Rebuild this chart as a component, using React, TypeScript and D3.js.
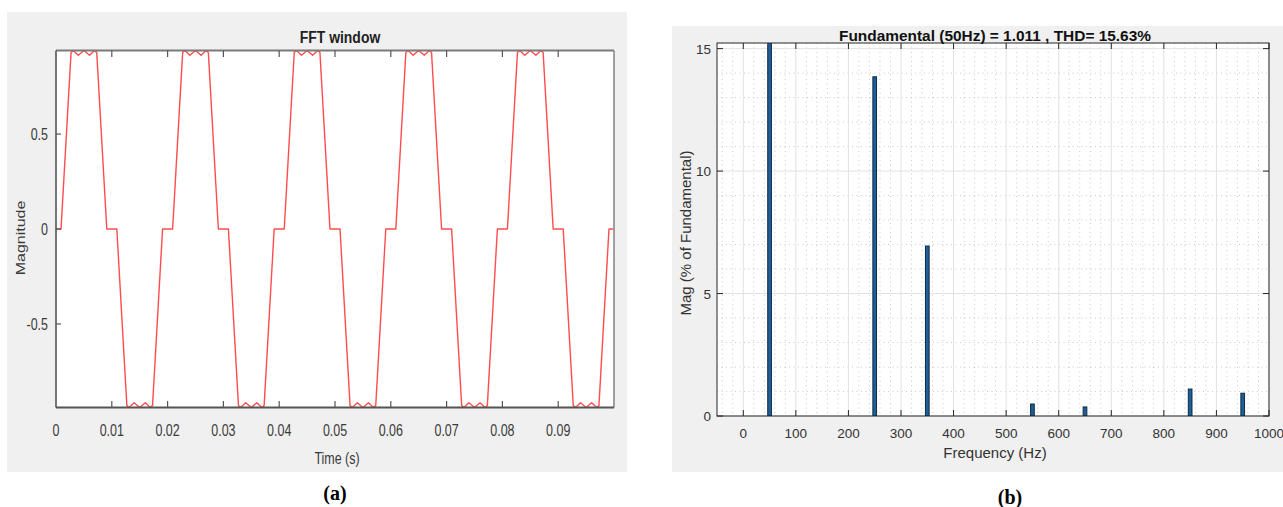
import React from "react";
import * as d3 from "d3";

// ---------- Panel (a): FFT window signal ----------
const timeS: number[] = [
  0.0, 0.0009, 0.0027, 0.0031, 0.004, 0.005, 0.006, 0.0069, 0.0073, 0.0091,
  0.0109, 0.0127, 0.0131, 0.014, 0.015, 0.016, 0.0169, 0.0173, 0.0191,
  0.0209, 0.0227, 0.0231, 0.024, 0.025, 0.026, 0.0269, 0.0273, 0.0291,
  0.0309, 0.0327, 0.0331, 0.034, 0.035, 0.036, 0.0369, 0.0373, 0.0391,
  0.0409, 0.0427, 0.0431, 0.044, 0.045, 0.046, 0.0469, 0.0473, 0.0491,
  0.0509, 0.0527, 0.0531, 0.054, 0.055, 0.056, 0.0569, 0.0573, 0.0591,
  0.0609, 0.0627, 0.0631, 0.064, 0.065, 0.066, 0.0669, 0.0673, 0.0691,
  0.0709, 0.0727, 0.0731, 0.074, 0.075, 0.076, 0.0769, 0.0773, 0.0791,
  0.0809, 0.0827, 0.0831, 0.084, 0.085, 0.086, 0.0869, 0.0873, 0.0891,
  0.0909, 0.0927, 0.0931, 0.094, 0.095, 0.096, 0.0969, 0.0973, 0.0991,
  0.0999,
];
const magnitude: number[] = [
  0, 0, 0.93, 0.94, 0.915, 0.94, 0.915, 0.94, 0.93, 0,
  0, -0.93, -0.94, -0.915, -0.94, -0.915, -0.94, -0.93, 0,
  0, 0.93, 0.94, 0.915, 0.94, 0.915, 0.94, 0.93, 0,
  0, -0.93, -0.94, -0.915, -0.94, -0.915, -0.94, -0.93, 0,
  0, 0.93, 0.94, 0.915, 0.94, 0.915, 0.94, 0.93, 0,
  0, -0.93, -0.94, -0.915, -0.94, -0.915, -0.94, -0.93, 0,
  0, 0.93, 0.94, 0.915, 0.94, 0.915, 0.94, 0.93, 0,
  0, -0.93, -0.94, -0.915, -0.94, -0.915, -0.94, -0.93, 0,
  0, 0.93, 0.94, 0.915, 0.94, 0.915, 0.94, 0.93, 0,
  0, -0.93, -0.94, -0.915, -0.94, -0.915, -0.94, -0.93, 0,
  0,
];
const timeTicks: number[] = [0, 0.01, 0.02, 0.03, 0.04, 0.05, 0.06, 0.07, 0.08, 0.09];
const timeTickLabels: string[] = ["0", "0.01", "0.02", "0.03", "0.04", "0.05", "0.06", "0.07", "0.08", "0.09"];
const magTicks: number[] = [0.5, 0, -0.5];
const magTickLabels: string[] = ["0.5", "0", "-0.5"];

// ---------- Panel (b): harmonic spectrum ----------
const freqHz: number[] = [50, 250, 350, 550, 650, 850, 950];
const magPct: number[] = [100, 13.85, 6.94, 0.49, 0.37, 1.1, 0.93];
const freqTicks: number[] = [0, 100, 200, 300, 400, 500, 600, 700, 800, 900, 1000];
const pctTicks: number[] = [0, 5, 10, 15];

const SANS = "'Liberation Sans', Arial, Helvetica, sans-serif";
const SERIF = "'Liberation Serif', 'Times New Roman', serif";

// condensed text for panel (a): scaled horizontally
function CText(props: {
  x: number;
  y: number;
  size: number;
  sx?: number;
  anchor?: string;
  bold?: boolean;
  fill?: string;
  rotate?: boolean;
  children: React.ReactNode;
}) {
  const sx = props.sx ?? 0.78;
  const tr = props.rotate
    ? `translate(${props.x},${props.y}) rotate(-90) scale(1,${sx})`
    : `translate(${props.x},${props.y}) scale(${sx},1)`;
  return (
    <text
      transform={tr}
      textAnchor={props.anchor ?? "middle"}
      fontFamily={SANS}
      fontSize={props.size}
      fontWeight={props.bold ? "bold" : "normal"}
      fill={props.fill ?? "#3a3a3a"}
    >
      {props.children}
    </text>
  );
}

function PanelA() {
  const x = d3.scaleLinear().domain([0, 0.1]).range([56, 614]);
  const y = d3.scaleLinear().domain([-0.94, 0.94]).range([407.5, 50.5]);
  const line = d3
    .line<number>()
    .x((_, i) => x(timeS[i]))
    .y((d) => y(d));
  return (
    <g>
      <rect x={7} y={12} width={620} height={460} fill="#f0f0f0" />
      <rect x={56} y={50.5} width={558} height={357} fill="#ffffff" />
      <clipPath id="clipA">
        <rect x={56} y={49} width={558} height={360} />
      </clipPath>
      <path
        d={line(magnitude) || ""}
        fill="none"
        stroke="#ff4d4d"
        strokeWidth={1.4}
        clipPath="url(#clipA)"
        strokeLinejoin="round"
      />
      {/* frame */}
      <line x1={56} x2={614} y1={50.5} y2={50.5} stroke="#7a7a7a" strokeWidth={2.2} />
      <line x1={614} x2={614} y1={50.5} y2={407.5} stroke="#8a8a8a" strokeWidth={1.6} />
      <line x1={56} x2={56} y1={50.5} y2={407.5} stroke="#555" strokeWidth={1.6} />
      <line x1={56} x2={614} y1={407.5} y2={407.5} stroke="#555" strokeWidth={1.8} />
      {timeTicks.map((t, i) => (
        <g key={"tt" + i}>
          {i > 0 && <line x1={x(t)} x2={x(t)} y1={407.5} y2={401} stroke="#555" strokeWidth={1.2} />}
          {i > 0 && <line x1={x(t)} x2={x(t)} y1={50.5} y2={57} stroke="#555" strokeWidth={1.2} />}
          <CText x={x(t)} y={436} size={16}>
            {timeTickLabels[i]}
          </CText>
        </g>
      ))}
      {magTicks.map((m, i) => (
        <g key={"mt" + i}>
          <line x1={56} x2={61} y1={y(m)} y2={y(m)} stroke="#555" strokeWidth={1.2} />
          <CText x={48} y={y(m) + 6} size={16} anchor="end">
            {magTickLabels[i]}
          </CText>
        </g>
      ))}
      <CText x={340} y={43} size={17} bold sx={0.82} fill="#222">
        FFT window
      </CText>
      <CText x={337} y={464} size={16}>
        Time (s)
      </CText>
      <CText x={25} y={238} size={16} rotate sx={0.85}>
        Magnitude
      </CText>
      <text x={335} y={500} textAnchor="middle" fontFamily={SERIF} fontWeight="bold" fontSize={20} fill="#000">
        (a)
      </text>
    </g>
  );
}

function PanelB() {
  const x = d3.scaleLinear().domain([-50, 1000]).range([717, 1269]);
  const y = d3.scaleLinear().domain([0, 15.23]).range([416, 43]);
  const minorX = d3.range(-40, 1000, 20).filter((f) => f % 100 !== 0);
  const minorY = d3.range(1, 16, 1).filter((v) => v % 5 !== 0 && v < 15.23);
  const barW = x(7) - x(0);
  return (
    <g>
      <rect x={672} y={26} width={611} height={446} fill="#f0f0f0" />
      <rect x={717} y={43} width={552} height={373} fill="#ffffff" />
      {/* minor grid */}
      {minorX.map((f) => (
        <line key={"mx" + f} x1={x(f)} x2={x(f)} y1={43} y2={416} stroke="#bdbdbd" strokeWidth={0.8} strokeDasharray="1,3.5" />
      ))}
      {minorY.map((v) => (
        <line key={"my" + v} x1={717} x2={1269} y1={y(v)} y2={y(v)} stroke="#bdbdbd" strokeWidth={0.8} strokeDasharray="1,3.5" />
      ))}
      {/* major grid */}
      {freqTicks.map((f) => (
        <line key={"gx" + f} x1={x(f)} x2={x(f)} y1={43} y2={416} stroke="#e2e2e2" strokeWidth={1} />
      ))}
      {pctTicks.map((v) => (
        <line key={"gy" + v} x1={717} x2={1269} y1={y(v)} y2={y(v)} stroke="#e2e2e2" strokeWidth={1} />
      ))}
      <clipPath id="clipB">
        <rect x={717} y={43} width={552} height={373} />
      </clipPath>
      <g clipPath="url(#clipB)">
        {freqHz.map((f, i) => (
          <rect
            key={"b" + f}
            x={x(f) - barW / 2}
            y={y(magPct[i])}
            width={barW}
            height={y(0) - y(magPct[i])}
            fill="#1f5f96"
            stroke="#0b2a46"
            strokeWidth={1}
          />
        ))}
      </g>
      {/* frame */}
      <rect x={717} y={43} width={552} height={373} fill="none" stroke="#262626" strokeWidth={1} />
      {freqTicks.map((f) => (
        <g key={"xt" + f}>
          <line x1={x(f)} x2={x(f)} y1={416} y2={410} stroke="#262626" strokeWidth={1} />
          <line x1={x(f)} x2={x(f)} y1={43} y2={49} stroke="#262626" strokeWidth={1} />
          <text x={x(f)} y={438} textAnchor="middle" fontFamily={SANS} fontSize={13.5} fill="#333">
            {f}
          </text>
        </g>
      ))}
      {pctTicks.map((v) => (
        <g key={"yt" + v}>
          <line x1={717} x2={723} y1={y(v)} y2={y(v)} stroke="#262626" strokeWidth={1} />
          <line x1={1269} x2={1263} y1={y(v)} y2={y(v)} stroke="#262626" strokeWidth={1} />
          <text x={711} y={y(v) + 5} textAnchor="end" fontFamily={SANS} fontSize={13.5} fill="#333">
            {v}
          </text>
        </g>
      ))}
      <text
        x={995}
        y={41}
        textAnchor="middle"
        fontFamily={SANS}
        fontWeight="bold"
        fontSize={14}
        textLength={312}
        lengthAdjust="spacingAndGlyphs"
        fill="#111"
      >
        Fundamental (50Hz) = 1.011 , THD= 15.63%
      </text>
      <text x={995} y={458} textAnchor="middle" fontFamily={SANS} fontSize={15} fill="#333">
        Frequency (Hz)
      </text>
      <text
        transform="translate(691,233) rotate(-90)"
        textAnchor="middle"
        fontFamily={SANS}
        fontSize={15}
        fill="#333"
      >
        Mag (% of Fundamental)
      </text>
      <text x={1010} y={504} textAnchor="middle" fontFamily={SERIF} fontWeight="bold" fontSize={20} fill="#000">
        (b)
      </text>
    </g>
  );
}

export default function App() {
  return (
    <svg
      width={1283}
      height={507}
      viewBox="0 0 1283 507"
      style={{ position: "absolute", left: 0, top: 0, display: "block", background: "#ffffff" }}
    >
      <PanelA />
      <PanelB />
    </svg>
  );
}
